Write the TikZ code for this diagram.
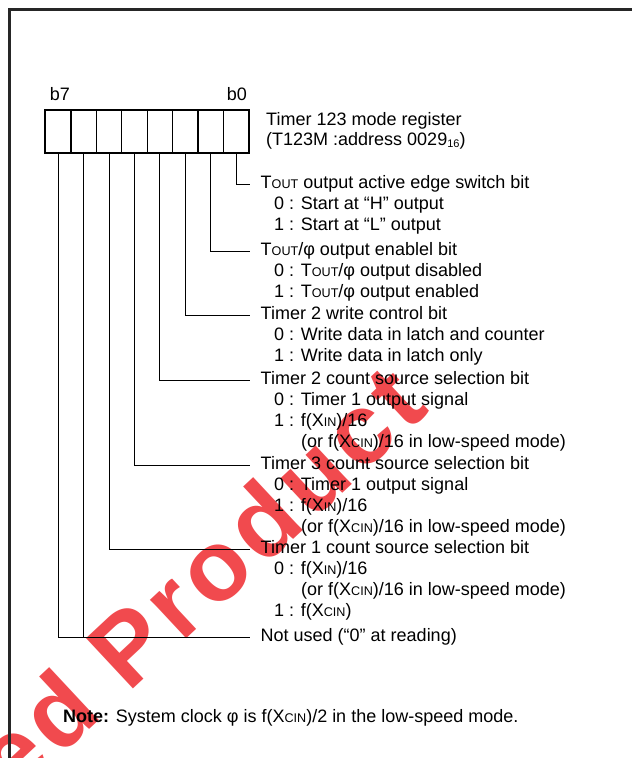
\documentclass[tikz,border=0pt]{standalone}
\usepackage{fontspec}
\setmainfont{Liberation Sans}
\usetikzlibrary{calc}
\definecolor{wmred}{HTML}{EE2A2F}
\newcommand{\lc}[1]{{\fontsize{12.6}{13}\selectfont #1}}
\newcommand{\subsix}{\raisebox{-2pt}{\fontsize{11}{12}\selectfont 16}}
\tikzset{
  lbl/.style={anchor=west, inner sep=0pt, font=\fontsize{18}{20}\selectfont, text height=13pt, text depth=3.8pt},
  lblc/.style={lbl, anchor=center},
  cell/.style={draw, line width=1.2pt, minimum width=25.4pt, minimum height=42pt, inner sep=0pt, anchor=north west},
  wire/.style={line width=1pt, black, shorten >=10.5pt},
  frame/.style={line width=2.5pt, black!85},
}
\begin{document}
\begin{tikzpicture}[x=1pt, y=-1pt]
\useasboundingbox (0,0) rectangle (632,758);
% watermark
\begin{scope}
\clip (0,0) rectangle (632,758);
\node[rotate=43, anchor=base west, inner sep=0pt, text=wmred, text opacity=0.85,
      font=\fontsize{100}{100}\selectfont\bfseries\addfontfeatures{LetterSpace=6}] (wm) at (14,800) {ed Product};
\end{scope}
% frame
\draw[frame] (9.5,762) -- (9.5,9.5) -- (636,9.5);
% register cells
\foreach \i [evaluate=\i as \b using int(7-\i)] in {0,...,7}
  \node[cell] (c\b) at ({45+\i*25.4},110) {};
\draw[line width=2pt] (c7.north west) rectangle (c0.south east);
\node[lblc] (lb7) at (60,96) {b7};
\node[lblc] (lb0) at (237,96) {b0};
\node[lbl] (reg1) at (266,121) {Timer 123 mode register};
\node[lbl] (reg2) at (266,141) {(T123M :address 0029\subsix)};
% bit 0
\node[lbl] (t0) at (260.5,184) {T\lc{OUT} output active edge switch bit};
\node[lbl] (t0a) at (274,205) {0 : Start at “H” output};
\node[lbl] (t0b) at (274,226) {1 : Start at “L” output};
% bit 1
\node[lbl] (t1) at (260.5,251) {T\lc{OUT}/φ output enablel bit};
\node[lbl] (t1a) at (274,272) {0 : T\lc{OUT}/φ output disabled};
\node[lbl] (t1b) at (274,293) {1 : T\lc{OUT}/φ output enabled};
% bit 2
\node[lbl] (t2) at (260.5,315) {Timer 2 write control bit};
\node[lbl] (t2a) at (274,336) {0 : Write data in latch and counter};
\node[lbl] (t2b) at (274,357) {1 : Write data in latch only};
% bit 3
\node[lbl] (t3) at (260.5,380) {Timer 2 count source selection bit};
\node[lbl] (t3a) at (274,401) {0 : Timer 1 output signal};
\node[lbl] (t3b) at (274,422) {1 : f(X\lc{IN})/16};
\node[lbl] (t3c) at (301,443) {(or f(X\lc{CIN})/16 in low-speed mode)};
% bit 4
\node[lbl] (t4) at (260.5,465) {Timer 3 count source selection bit};
\node[lbl] (t4a) at (274,486) {0 : Timer 1 output signal};
\node[lbl] (t4b) at (274,507) {1 : f(X\lc{IN})/16};
\node[lbl] (t4c) at (301,528) {(or f(X\lc{CIN})/16 in low-speed mode)};
% bit 5
\node[lbl] (t5) at (260.5,549) {Timer 1 count source selection bit};
\node[lbl] (t5a) at (274,570) {0 : f(X\lc{IN})/16};
\node[lbl] (t5b) at (301,591) {(or f(X\lc{CIN})/16 in low-speed mode)};
\node[lbl] (t5c) at (274,612) {1 : f(X\lc{CIN})};
% bits 6,7
\node[lbl] (tn) at (260.5,637) {Not used (“0” at reading)};
% note
\node[lbl] (note) at (63,718) {\textbf{Note:} System clock φ is f(X\lc{CIN})/2 in the low-speed mode.};
% wires
\draw[wire] (c0.south) |- (t0.west);
\draw[wire] (c1.south) |- (t1.west);
\draw[wire] (c2.south) |- (t2.west);
\draw[wire] (c3.south) |- (t3.west);
\draw[wire] (c4.south) |- (t4.west);
\draw[wire] (c5.south) |- (t5.west);
\draw[wire] (c7.south) |- (tn.west);
\draw[wire, shorten >=0pt] (c6.south) -- (c6.south |- tn.west);
\end{tikzpicture}
\end{document}
